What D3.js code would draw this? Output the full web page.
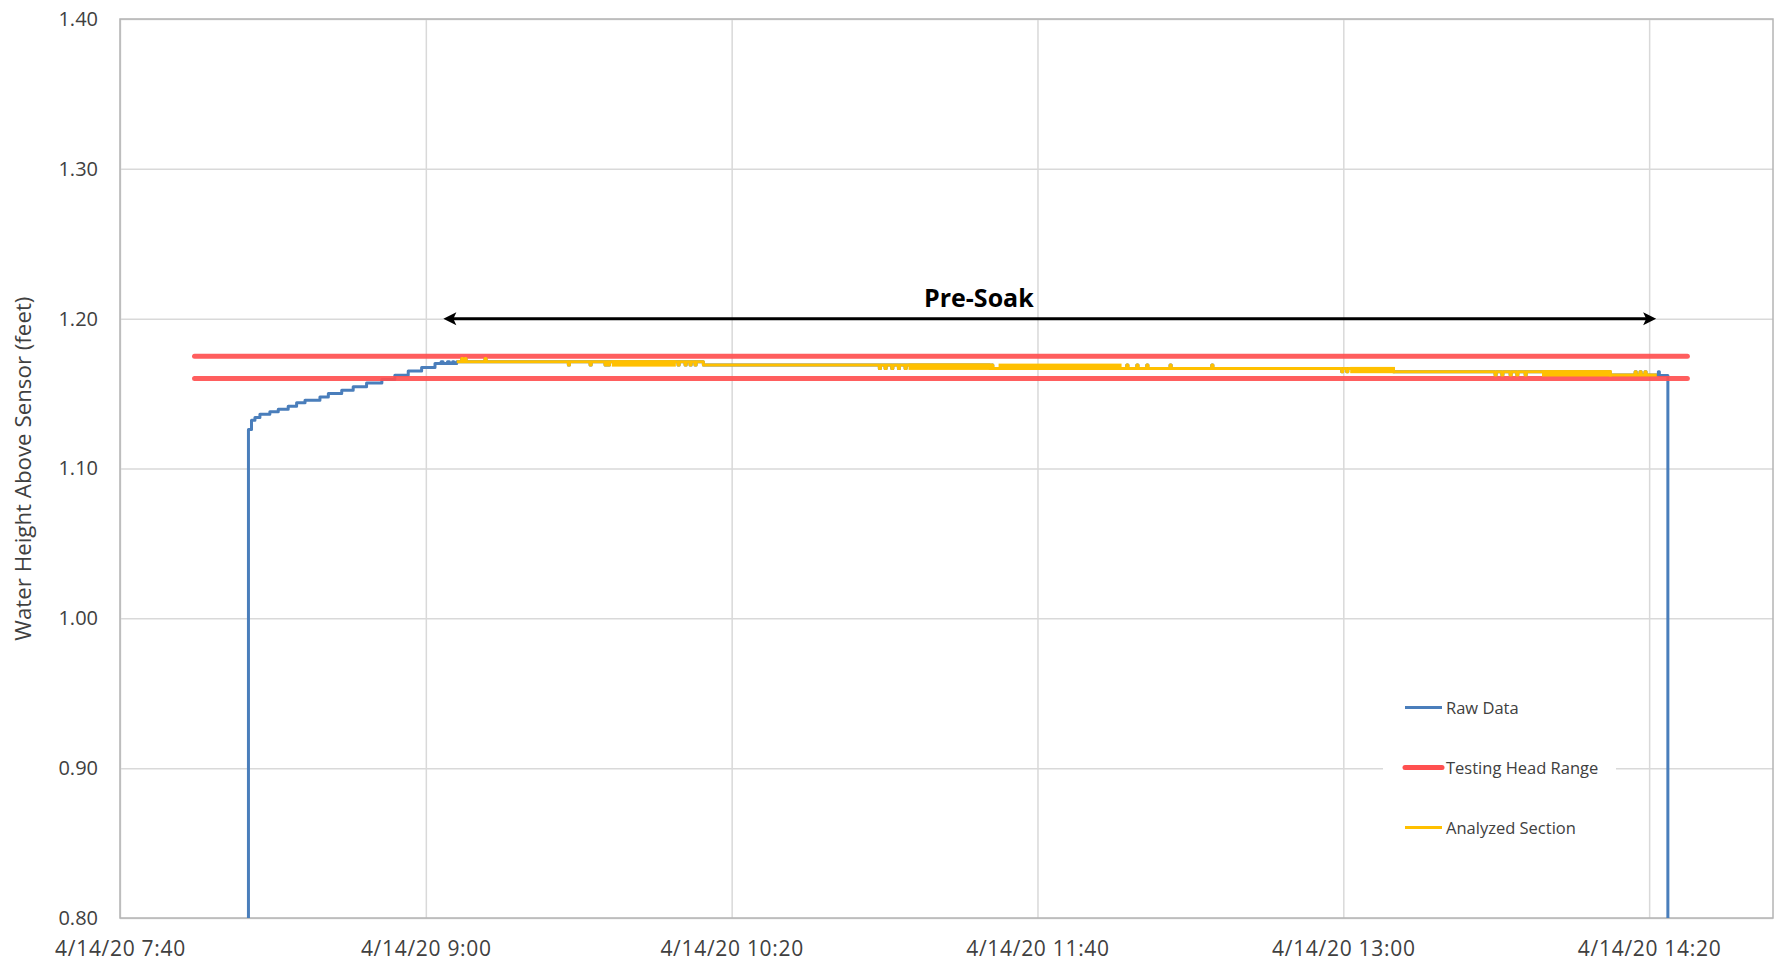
<!DOCTYPE html>
<html><head><meta charset="utf-8">
<script src="https://cdn.jsdelivr.net/npm/d3@7"></script>
<style>body{margin:0;background:#fff}svg{display:block}</style>
</head><body>
<svg id="chart" width="1775" height="964"></svg>
<script>
// ---------------- DATA ----------------
const dateStr = "2020-04-14";
const xDomain = ["07:40:00", "14:52:24"];
const xTickTimes = ["07:40:00", "09:00:00", "10:20:00", "11:40:00", "13:00:00", "14:20:00"];
const xTickLabels = ["4/14/20 7:40", "4/14/20 9:00", "4/14/20 10:20", "4/14/20 11:40", "4/14/20 13:00", "4/14/20 14:20"];
const yDomain = [0.80, 1.40];
const yTicks = [0.80, 0.90, 1.00, 1.10, 1.20, 1.30, 1.40];
const yTitle = "Water Height Above Sensor (feet)";

// Raw data: fill-up before the analyzed section
const rawStart = [
  ["08:13:30", 0.60], ["08:13:36", 1.126], ["08:14:24", 1.1322], ["08:15:18", 1.1340],
  ["08:16:36", 1.1362], ["08:19:12", 1.1378], ["08:21:24", 1.1396], ["08:24:00", 1.1416],
  ["08:26:12", 1.1438], ["08:28:24", 1.1456], ["08:32:18", 1.1478], ["08:34:30", 1.1500],
  ["08:38:00", 1.1523], ["08:41:00", 1.1545], ["08:44:30", 1.1571], ["08:48:30", 1.1594],
  ["08:51:54", 1.1623], ["08:55:24", 1.1650], ["08:58:54", 1.1674], ["09:02:24", 1.1701],
  ["09:04:00", 1.1712], ["09:04:30", 1.1701], ["09:05:40", 1.1712], ["09:06:10", 1.1701],
  ["09:07:00", 1.1712], ["09:07:20", 1.1701]
];

// Analyzed section (also part of the raw record)
const analyzedSection = [
  ["09:08:05", 1.1712],
  ["09:09:23", 1.1734], ["09:09:40", 1.1712],
  ["09:10:15", 1.1734], ["09:10:32", 1.1712],
  ["09:15:29", 1.1734], ["09:15:46", 1.1712],
  ["09:37:17", 1.1690], ["09:37:34", 1.1712],
  ["09:42:58", 1.1690], ["09:43:15", 1.1712],
  ["09:46:53", 1.1690], ["09:47:10", 1.1712],
  ["09:47:45", 1.1690], ["09:48:02", 1.1712],
  ["10:05:59", 1.1690], ["10:06:16", 1.1712],
  ["10:07:49", 1.1690], ["10:08:06", 1.1712],
  ["10:09:07", 1.1690], ["10:09:24", 1.1712],
  ["10:10:25", 1.1690], ["10:10:42", 1.1712],
  ["10:12:36", 1.1690],
  ["10:58:38", 1.1668], ["10:58:55", 1.1690],
  ["11:00:08", 1.1668], ["11:00:25", 1.1690],
  ["11:01:53", 1.1668], ["11:02:10", 1.1690],
  ["11:03:37", 1.1668], ["11:03:54", 1.1690],
  ["11:05:22", 1.1668], ["11:05:39", 1.1690],
  ["11:27:36", 1.1668],
  ["11:28:02", 1.1690], ["11:28:19", 1.1668],
  ["12:03:22", 1.1690], ["12:03:39", 1.1668],
  ["12:06:00", 1.1690], ["12:06:17", 1.1668],
  ["12:08:36", 1.1690], ["12:08:53", 1.1668],
  ["12:14:41", 1.1690], ["12:14:58", 1.1668],
  ["12:25:36", 1.1690], ["12:25:53", 1.1668],
  ["12:59:35", 1.1646], ["12:59:52", 1.1668],
  ["13:00:54", 1.1646], ["13:01:11", 1.1668],
  ["13:13:06", 1.1646],
  ["13:39:42", 1.1624], ["13:39:59", 1.1646],
  ["13:41:28", 1.1624], ["13:41:45", 1.1646],
  ["13:43:38", 1.1624], ["13:43:55", 1.1646],
  ["13:45:23", 1.1624], ["13:45:40", 1.1646],
  ["13:47:34", 1.1624], ["13:47:51", 1.1646],
  ["14:09:48", 1.1624],
  ["14:16:20", 1.1646], ["14:16:37", 1.1624],
  ["14:17:37", 1.1646], ["14:17:54", 1.1624],
  ["14:18:55", 1.1646], ["14:19:12", 1.1624],
  ["14:22:00", 1.1624]
];

// Periods where the reading flickers rapidly between two levels: [start, end, low, high]
const analyzedBands = [
  ["09:49:03", "10:05:00", 1.1690, 1.1712],
  ["11:06:40", "11:27:36", 1.1668, 1.1690],
  ["11:30:13", "12:01:36", 1.1668, 1.1690],
  ["13:02:12", "13:13:06", 1.1646, 1.1668],
  ["13:52:22", "14:09:48", 1.1624, 1.1646]
];

// Raw data after the analyzed section (drain)
const rawEnd = [
  ["14:22:25", 1.1646], ["14:22:40", 1.1620], ["14:24:54", 0.60], ["14:25:30", 0.60]
];

const headRangeValues = [1.160, 1.175];
const headRangeTimes = ["07:59:30", "14:30:00"];

const preSoakTimes = ["09:04:35", "14:21:50"];
const preSoakValue = 1.20;
const preSoakLabel = "Pre-Soak";
const preSoakLabelPos = ["11:24:40", 1.2144];

const legendNames = ["Raw Data", "Testing Head Range", "Analyzed Section"];
const colors = { raw: "#4A7EBB", range: "#FF5050", analyzed: "#FFC000" };

// ---------------- CHART ----------------
const parseT = d3.timeParse("%Y-%m-%d %H:%M:%S");
const T = s => parseT(dateStr + " " + s);

const svg = d3.select("#chart");
const plot = { left: 120, top: 19, right: 1773, bottom: 918 };
const x = d3.scaleTime().domain(xDomain.map(T)).range([plot.left, plot.right]);
const y = d3.scaleLinear().domain(yDomain).range([plot.bottom, plot.top]);
const font = "'Open Sans', 'Noto Sans', sans-serif";
const textColor = "#404040";

svg.append("defs").append("clipPath").attr("id", "clip")
  .append("rect").attr("x", plot.left).attr("y", plot.top)
  .attr("width", plot.right - plot.left).attr("height", plot.bottom - plot.top);

// gridlines + axes
const xAxis = svg.append("g").attr("transform", `translate(0,${plot.bottom})`)
  .call(d3.axisBottom(x).tickValues(xTickTimes.map(T))
    .tickSize(-(plot.bottom - plot.top)).tickFormat((d, i) => xTickLabels[i]));
xAxis.select(".domain").remove();
xAxis.selectAll("line").attr("stroke", "#d9d9d9").attr("stroke-width", 1.5);
xAxis.selectAll("text").attr("y", 31).attr("dy", "0.35em")
  .style("font-family", font).style("font-size", "21px").style("letter-spacing", "0.7px")
  .attr("fill", textColor);

const yAxis = svg.append("g").attr("transform", `translate(${plot.left},0)`)
  .call(d3.axisLeft(y).tickValues(yTicks)
    .tickSize(-(plot.right - plot.left)).tickPadding(22).tickFormat(d3.format(".2f")));
yAxis.select(".domain").remove();
yAxis.selectAll("line").attr("stroke", "#d9d9d9").attr("stroke-width", 1.5);
yAxis.selectAll("text").style("font-family", font).style("font-size", "20px").attr("fill", textColor);

// plot border
svg.append("rect").attr("x", plot.left).attr("y", plot.top)
  .attr("width", plot.right - plot.left).attr("height", plot.bottom - plot.top)
  .attr("fill", "none").attr("stroke", "#b4b4b4").attr("stroke-width", 1.5);

// y title
svg.append("text")
  .attr("transform", `translate(22,468.6) rotate(-90)`)
  .attr("text-anchor", "middle").attr("dominant-baseline", "central")
  .style("font-family", font).style("font-size", "22.3px").attr("fill", textColor)
  .text(yTitle);

const lines = svg.append("g").attr("clip-path", "url(#clip)");
const lineGen = d3.line().x(d => x(T(d[0]))).y(d => y(d[1])).curve(d3.curveStepAfter);

// raw data (full record)
const rawData = rawStart.concat(analyzedSection, rawEnd);
lines.append("path").datum(rawData).attr("d", lineGen)
  .attr("fill", "none").attr("stroke", colors.raw).attr("stroke-width", 3)
  .attr("stroke-linejoin", "round");

// testing head range
headRangeValues.forEach(v => {
  lines.append("line")
    .attr("x1", x(T(headRangeTimes[0]))).attr("x2", x(T(headRangeTimes[1])))
    .attr("y1", y(v)).attr("y2", y(v))
    .attr("stroke", colors.range).attr("stroke-width", 5)
    .attr("stroke-linecap", "round").attr("stroke-opacity", 0.92);
});

// analyzed section
lines.selectAll("rect.band").data(analyzedBands).join("rect").attr("class", "band")
  .attr("x", d => x(T(d[0]))).attr("width", d => x(T(d[1])) - x(T(d[0])))
  .attr("y", d => y(d[3])).attr("height", d => y(d[2]) - y(d[3]))
  .attr("fill", colors.analyzed).attr("stroke", colors.analyzed).attr("stroke-width", 3);
lines.append("path").datum(analyzedSection).attr("d", lineGen)
  .attr("fill", "none").attr("stroke", colors.analyzed).attr("stroke-width", 3)
  .attr("stroke-linejoin", "round");

// Pre-Soak arrow
const ax1 = x(T(preSoakTimes[0])), ax2 = x(T(preSoakTimes[1])), ay = y(preSoakValue);
svg.append("line").attr("x1", ax1 + 8).attr("x2", ax2 - 8).attr("y1", ay).attr("y2", ay)
  .attr("stroke", "#000").attr("stroke-width", 3);
svg.append("path")
  .attr("d", `M${ax1},${ay} L${ax1 + 13},${ay - 6.5} L${ax1 + 10},${ay} L${ax1 + 13},${ay + 6.5} Z`)
  .attr("fill", "#000");
svg.append("path")
  .attr("d", `M${ax2},${ay} L${ax2 - 13},${ay - 6.5} L${ax2 - 10},${ay} L${ax2 - 13},${ay + 6.5} Z`)
  .attr("fill", "#000");
svg.append("text")
  .attr("x", x(T(preSoakLabelPos[0]))).attr("y", y(preSoakLabelPos[1]))
  .attr("text-anchor", "middle").attr("dominant-baseline", "central")
  .style("font-family", font).style("font-size", "25px").style("font-weight", "bold")
  .attr("fill", "#000").text(preSoakLabel);

// legend
const lg = svg.append("g");
lg.append("rect").attr("x", 1383).attr("y", 682).attr("width", 233).attr("height", 172).attr("fill", "#fff");
const legendStyles = [
  { c: colors.raw, w: 3, cap: "butt" },
  { c: colors.range, w: 5, cap: "round" },
  { c: colors.analyzed, w: 3, cap: "butt" }
];
legendNames.forEach((name, i) => {
  const ly = 707.5 + i * 60;
  lg.append("line").attr("x1", 1405).attr("x2", 1442).attr("y1", ly).attr("y2", ly)
    .attr("stroke", legendStyles[i].c).attr("stroke-width", legendStyles[i].w)
    .attr("stroke-linecap", legendStyles[i].cap);
  lg.append("text").attr("x", 1446).attr("y", ly).attr("dominant-baseline", "central")
    .style("font-family", font).style("font-size", "16.5px").attr("fill", textColor).text(name);
});
</script>
</body></html>
